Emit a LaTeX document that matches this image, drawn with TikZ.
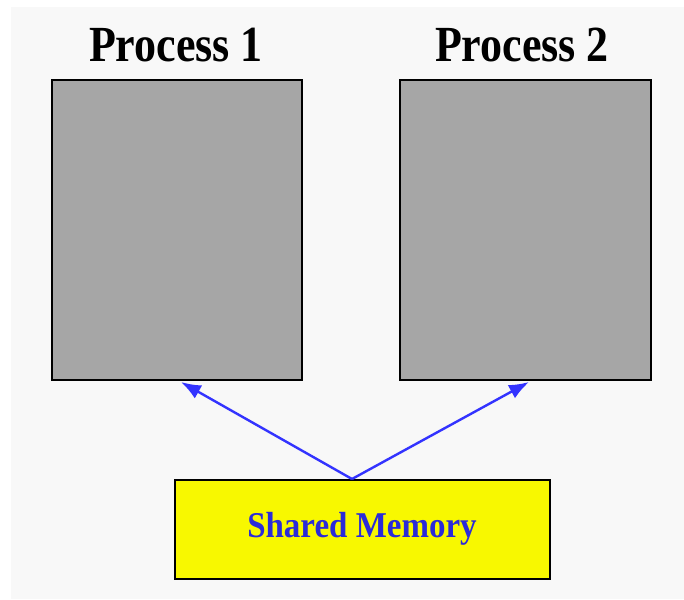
\documentclass[tikz,border=0pt]{standalone}
\usepackage{fontspec}
\setmainfont{Liberation Serif}
\usetikzlibrary{arrows.meta}
\definecolor{bggray}{HTML}{F8F8F8}
\definecolor{procgray}{HTML}{A6A6A6}
\definecolor{memyellow}{HTML}{F8F800}
\definecolor{arrowblue}{HTML}{3333FF}
\definecolor{textblue}{HTML}{2B2BD8}
\begin{document}
\begin{tikzpicture}[x=1pt,y=-1pt,
  procbox/.style={draw=black,line width=2.6pt,fill=procgray},
  membox/.style={draw=black,line width=2.6pt,fill=memyellow},
  title/.style={font=\fontsize{44}{48}\selectfont\bfseries},
  link/.style={draw=arrowblue,line width=2.4pt,-{Latex[length=20pt,width=15pt]}}]
\useasboundingbox (0,0) rectangle (684,599);
\fill[bggray] (11,7) rectangle (684,599);
\draw[procbox] (52,80) rectangle (302,380);
\draw[procbox] (400,80) rectangle (651,380);
\coordinate (p1) at (181,382);
\coordinate (p2) at (529,382);
\node[title] (t1) at (176,45) {\scalebox{1}[1.15]{Process 1}};
\node[title] (t2) at (522,45) {\scalebox{1}[1.15]{Process 2}};
\draw[membox] (175,480) rectangle (550,579);
\coordinate (m) at (352,479);
\node[text=textblue,font=\fontsize{33}{40}\selectfont\bfseries] (mem) at (362,529) {\scalebox{1}[1.1]{Shared Memory}};
\draw[link] (m) -- (p1);
\draw[link] (m) -- (p2);
\end{tikzpicture}
\end{document}
